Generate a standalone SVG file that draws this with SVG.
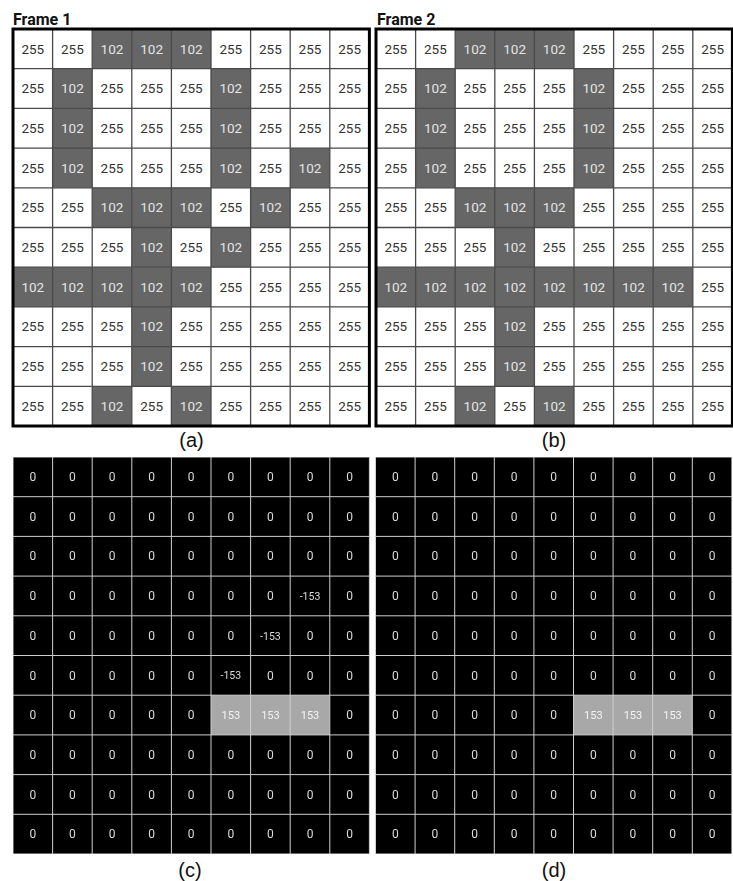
<svg xmlns="http://www.w3.org/2000/svg" width="733" height="881" viewBox="0 0 733 881">
<style>
text{font-family:Roboto,"Liberation Sans",sans-serif;text-anchor:middle}
.w{font-size:13.5px;fill:#333}
.g{font-size:13.5px;fill:#e4e4e4}
.z{font-size:12px;fill:#dcdcdc}
.p{font-size:11px;fill:#f4f4f4}
.n{font-size:10.5px;fill:#dcdcdc}
.title{font-size:16px;font-weight:bold;fill:#111;text-anchor:start}
.cap{font-size:20px;fill:#111;font-family:"Liberation Sans",Arial,sans-serif}
.dk{fill:#666}
.lt{fill:#a8a8a8}
.gl{fill:none;stroke:#4a4a4a;stroke-width:1.3}
.bl{fill:none;stroke:#cfcfcf;stroke-width:1}
.dark{filter:url(#flat)}
</style>
<defs>
<filter id="flat" x="0" y="0" width="1" height="1"><feOffset dx="0" dy="0"/></filter>
<path id="grid" d="M39.6 0V397M79.2 0V397M118.8 0V397M158.4 0V397M198 0V397M237.6 0V397M277.2 0V397M316.8 0V397M0 39.7H356.4M0 79.4H356.4M0 119.1H356.4M0 158.8H356.4M0 198.5H356.4M0 238.2H356.4M0 277.9H356.4M0 317.6H356.4M0 357.3H356.4"/>
</defs>
<rect width="733" height="881" fill="#fff"/>
<text class="title" x="13" y="25">Frame 1</text>
<text class="title" x="377" y="25">Frame 2</text>
<g id="frame1" transform="translate(13,29)">
<rect width="356.4" height="397" fill="#fff"/>
<rect class="dk" x="79.2" y="0" width="118.8" height="39.7"/>
<rect class="dk" x="39.6" y="39.7" width="39.6" height="119.1"/>
<rect class="dk" x="198" y="39.7" width="39.6" height="119.1"/>
<rect class="dk" x="277.2" y="119.1" width="39.6" height="39.7"/>
<rect class="dk" x="79.2" y="158.8" width="118.8" height="39.7"/>
<rect class="dk" x="237.6" y="158.8" width="39.6" height="39.7"/>
<rect class="dk" x="118.8" y="198.5" width="39.6" height="39.7"/>
<rect class="dk" x="198" y="198.5" width="39.6" height="39.7"/>
<rect class="dk" x="0" y="238.2" width="198" height="39.7"/>
<rect class="dk" x="118.8" y="277.9" width="39.6" height="79.4"/>
<rect class="dk" x="79.2" y="357.3" width="39.6" height="39.7"/>
<rect class="dk" x="158.4" y="357.3" width="39.6" height="39.7"/>
<use href="#grid" class="gl"/>
<rect width="356.4" height="397" fill="none" stroke="#000" stroke-width="3"/>
<text class="w" x="19.8" y="24.5">255</text><text class="w" x="59.4" y="24.5">255</text><text class="g" x="99" y="24.5">102</text><text class="g" x="138.6" y="24.5">102</text><text class="g" x="178.2" y="24.5">102</text><text class="w" x="217.8" y="24.5">255</text><text class="w" x="257.4" y="24.5">255</text><text class="w" x="297" y="24.5">255</text><text class="w" x="336.6" y="24.5">255</text>
<text class="w" x="19.8" y="64.2">255</text><text class="g" x="59.4" y="64.2">102</text><text class="w" x="99" y="64.2">255</text><text class="w" x="138.6" y="64.2">255</text><text class="w" x="178.2" y="64.2">255</text><text class="g" x="217.8" y="64.2">102</text><text class="w" x="257.4" y="64.2">255</text><text class="w" x="297" y="64.2">255</text><text class="w" x="336.6" y="64.2">255</text>
<text class="w" x="19.8" y="103.9">255</text><text class="g" x="59.4" y="103.9">102</text><text class="w" x="99" y="103.9">255</text><text class="w" x="138.6" y="103.9">255</text><text class="w" x="178.2" y="103.9">255</text><text class="g" x="217.8" y="103.9">102</text><text class="w" x="257.4" y="103.9">255</text><text class="w" x="297" y="103.9">255</text><text class="w" x="336.6" y="103.9">255</text>
<text class="w" x="19.8" y="143.6">255</text><text class="g" x="59.4" y="143.6">102</text><text class="w" x="99" y="143.6">255</text><text class="w" x="138.6" y="143.6">255</text><text class="w" x="178.2" y="143.6">255</text><text class="g" x="217.8" y="143.6">102</text><text class="w" x="257.4" y="143.6">255</text><text class="g" x="297" y="143.6">102</text><text class="w" x="336.6" y="143.6">255</text>
<text class="w" x="19.8" y="183.3">255</text><text class="w" x="59.4" y="183.3">255</text><text class="g" x="99" y="183.3">102</text><text class="g" x="138.6" y="183.3">102</text><text class="g" x="178.2" y="183.3">102</text><text class="w" x="217.8" y="183.3">255</text><text class="g" x="257.4" y="183.3">102</text><text class="w" x="297" y="183.3">255</text><text class="w" x="336.6" y="183.3">255</text>
<text class="w" x="19.8" y="223">255</text><text class="w" x="59.4" y="223">255</text><text class="w" x="99" y="223">255</text><text class="g" x="138.6" y="223">102</text><text class="w" x="178.2" y="223">255</text><text class="g" x="217.8" y="223">102</text><text class="w" x="257.4" y="223">255</text><text class="w" x="297" y="223">255</text><text class="w" x="336.6" y="223">255</text>
<text class="g" x="19.8" y="262.7">102</text><text class="g" x="59.4" y="262.7">102</text><text class="g" x="99" y="262.7">102</text><text class="g" x="138.6" y="262.7">102</text><text class="g" x="178.2" y="262.7">102</text><text class="w" x="217.8" y="262.7">255</text><text class="w" x="257.4" y="262.7">255</text><text class="w" x="297" y="262.7">255</text><text class="w" x="336.6" y="262.7">255</text>
<text class="w" x="19.8" y="302.4">255</text><text class="w" x="59.4" y="302.4">255</text><text class="w" x="99" y="302.4">255</text><text class="g" x="138.6" y="302.4">102</text><text class="w" x="178.2" y="302.4">255</text><text class="w" x="217.8" y="302.4">255</text><text class="w" x="257.4" y="302.4">255</text><text class="w" x="297" y="302.4">255</text><text class="w" x="336.6" y="302.4">255</text>
<text class="w" x="19.8" y="342.1">255</text><text class="w" x="59.4" y="342.1">255</text><text class="w" x="99" y="342.1">255</text><text class="g" x="138.6" y="342.1">102</text><text class="w" x="178.2" y="342.1">255</text><text class="w" x="217.8" y="342.1">255</text><text class="w" x="257.4" y="342.1">255</text><text class="w" x="297" y="342.1">255</text><text class="w" x="336.6" y="342.1">255</text>
<text class="w" x="19.8" y="381.8">255</text><text class="w" x="59.4" y="381.8">255</text><text class="g" x="99" y="381.8">102</text><text class="w" x="138.6" y="381.8">255</text><text class="g" x="178.2" y="381.8">102</text><text class="w" x="217.8" y="381.8">255</text><text class="w" x="257.4" y="381.8">255</text><text class="w" x="297" y="381.8">255</text><text class="w" x="336.6" y="381.8">255</text>
</g>
<g id="frame2" transform="translate(376,29)">
<rect width="356.4" height="397" fill="#fff"/>
<rect class="dk" x="79.2" y="0" width="118.8" height="39.7"/>
<rect class="dk" x="39.6" y="39.7" width="39.6" height="119.1"/>
<rect class="dk" x="198" y="39.7" width="39.6" height="119.1"/>
<rect class="dk" x="79.2" y="158.8" width="118.8" height="39.7"/>
<rect class="dk" x="118.8" y="198.5" width="39.6" height="39.7"/>
<rect class="dk" x="0" y="238.2" width="316.8" height="39.7"/>
<rect class="dk" x="118.8" y="277.9" width="39.6" height="79.4"/>
<rect class="dk" x="79.2" y="357.3" width="39.6" height="39.7"/>
<rect class="dk" x="158.4" y="357.3" width="39.6" height="39.7"/>
<use href="#grid" class="gl"/>
<rect width="356.4" height="397" fill="none" stroke="#000" stroke-width="3"/>
<text class="w" x="19.8" y="24.5">255</text><text class="w" x="59.4" y="24.5">255</text><text class="g" x="99" y="24.5">102</text><text class="g" x="138.6" y="24.5">102</text><text class="g" x="178.2" y="24.5">102</text><text class="w" x="217.8" y="24.5">255</text><text class="w" x="257.4" y="24.5">255</text><text class="w" x="297" y="24.5">255</text><text class="w" x="336.6" y="24.5">255</text>
<text class="w" x="19.8" y="64.2">255</text><text class="g" x="59.4" y="64.2">102</text><text class="w" x="99" y="64.2">255</text><text class="w" x="138.6" y="64.2">255</text><text class="w" x="178.2" y="64.2">255</text><text class="g" x="217.8" y="64.2">102</text><text class="w" x="257.4" y="64.2">255</text><text class="w" x="297" y="64.2">255</text><text class="w" x="336.6" y="64.2">255</text>
<text class="w" x="19.8" y="103.9">255</text><text class="g" x="59.4" y="103.9">102</text><text class="w" x="99" y="103.9">255</text><text class="w" x="138.6" y="103.9">255</text><text class="w" x="178.2" y="103.9">255</text><text class="g" x="217.8" y="103.9">102</text><text class="w" x="257.4" y="103.9">255</text><text class="w" x="297" y="103.9">255</text><text class="w" x="336.6" y="103.9">255</text>
<text class="w" x="19.8" y="143.6">255</text><text class="g" x="59.4" y="143.6">102</text><text class="w" x="99" y="143.6">255</text><text class="w" x="138.6" y="143.6">255</text><text class="w" x="178.2" y="143.6">255</text><text class="g" x="217.8" y="143.6">102</text><text class="w" x="257.4" y="143.6">255</text><text class="w" x="297" y="143.6">255</text><text class="w" x="336.6" y="143.6">255</text>
<text class="w" x="19.8" y="183.3">255</text><text class="w" x="59.4" y="183.3">255</text><text class="g" x="99" y="183.3">102</text><text class="g" x="138.6" y="183.3">102</text><text class="g" x="178.2" y="183.3">102</text><text class="w" x="217.8" y="183.3">255</text><text class="w" x="257.4" y="183.3">255</text><text class="w" x="297" y="183.3">255</text><text class="w" x="336.6" y="183.3">255</text>
<text class="w" x="19.8" y="223">255</text><text class="w" x="59.4" y="223">255</text><text class="w" x="99" y="223">255</text><text class="g" x="138.6" y="223">102</text><text class="w" x="178.2" y="223">255</text><text class="w" x="217.8" y="223">255</text><text class="w" x="257.4" y="223">255</text><text class="w" x="297" y="223">255</text><text class="w" x="336.6" y="223">255</text>
<text class="g" x="19.8" y="262.7">102</text><text class="g" x="59.4" y="262.7">102</text><text class="g" x="99" y="262.7">102</text><text class="g" x="138.6" y="262.7">102</text><text class="g" x="178.2" y="262.7">102</text><text class="g" x="217.8" y="262.7">102</text><text class="g" x="257.4" y="262.7">102</text><text class="g" x="297" y="262.7">102</text><text class="w" x="336.6" y="262.7">255</text>
<text class="w" x="19.8" y="302.4">255</text><text class="w" x="59.4" y="302.4">255</text><text class="w" x="99" y="302.4">255</text><text class="g" x="138.6" y="302.4">102</text><text class="w" x="178.2" y="302.4">255</text><text class="w" x="217.8" y="302.4">255</text><text class="w" x="257.4" y="302.4">255</text><text class="w" x="297" y="302.4">255</text><text class="w" x="336.6" y="302.4">255</text>
<text class="w" x="19.8" y="342.1">255</text><text class="w" x="59.4" y="342.1">255</text><text class="w" x="99" y="342.1">255</text><text class="g" x="138.6" y="342.1">102</text><text class="w" x="178.2" y="342.1">255</text><text class="w" x="217.8" y="342.1">255</text><text class="w" x="257.4" y="342.1">255</text><text class="w" x="297" y="342.1">255</text><text class="w" x="336.6" y="342.1">255</text>
<text class="w" x="19.8" y="381.8">255</text><text class="w" x="59.4" y="381.8">255</text><text class="g" x="99" y="381.8">102</text><text class="w" x="138.6" y="381.8">255</text><text class="g" x="178.2" y="381.8">102</text><text class="w" x="217.8" y="381.8">255</text><text class="w" x="257.4" y="381.8">255</text><text class="w" x="297" y="381.8">255</text><text class="w" x="336.6" y="381.8">255</text>
</g>
<text class="cap" x="191.5" y="447">(a)</text>
<text class="cap" x="554" y="447">(b)</text>
<g id="diffc" class="dark" transform="translate(13,457)">
<rect width="356.4" height="397" fill="#000"/>
<rect class="lt" x="198" y="238.2" width="118.8" height="39.7"/>
<use href="#grid" class="bl"/>
<rect width="356.4" height="397" class="bl"/>
<text class="z" x="19.8" y="24">0</text><text class="z" x="59.4" y="24">0</text><text class="z" x="99" y="24">0</text><text class="z" x="138.6" y="24">0</text><text class="z" x="178.2" y="24">0</text><text class="z" x="217.8" y="24">0</text><text class="z" x="257.4" y="24">0</text><text class="z" x="297" y="24">0</text><text class="z" x="336.6" y="24">0</text>
<text class="z" x="19.8" y="63.7">0</text><text class="z" x="59.4" y="63.7">0</text><text class="z" x="99" y="63.7">0</text><text class="z" x="138.6" y="63.7">0</text><text class="z" x="178.2" y="63.7">0</text><text class="z" x="217.8" y="63.7">0</text><text class="z" x="257.4" y="63.7">0</text><text class="z" x="297" y="63.7">0</text><text class="z" x="336.6" y="63.7">0</text>
<text class="z" x="19.8" y="103.4">0</text><text class="z" x="59.4" y="103.4">0</text><text class="z" x="99" y="103.4">0</text><text class="z" x="138.6" y="103.4">0</text><text class="z" x="178.2" y="103.4">0</text><text class="z" x="217.8" y="103.4">0</text><text class="z" x="257.4" y="103.4">0</text><text class="z" x="297" y="103.4">0</text><text class="z" x="336.6" y="103.4">0</text>
<text class="z" x="19.8" y="143.1">0</text><text class="z" x="59.4" y="143.1">0</text><text class="z" x="99" y="143.1">0</text><text class="z" x="138.6" y="143.1">0</text><text class="z" x="178.2" y="143.1">0</text><text class="z" x="217.8" y="143.1">0</text><text class="z" x="257.4" y="143.1">0</text><text class="n" x="297" y="142.8">-153</text><text class="z" x="336.6" y="143.1">0</text>
<text class="z" x="19.8" y="182.8">0</text><text class="z" x="59.4" y="182.8">0</text><text class="z" x="99" y="182.8">0</text><text class="z" x="138.6" y="182.8">0</text><text class="z" x="178.2" y="182.8">0</text><text class="z" x="217.8" y="182.8">0</text><text class="n" x="257.4" y="182.5">-153</text><text class="z" x="297" y="182.8">0</text><text class="z" x="336.6" y="182.8">0</text>
<text class="z" x="19.8" y="222.5">0</text><text class="z" x="59.4" y="222.5">0</text><text class="z" x="99" y="222.5">0</text><text class="z" x="138.6" y="222.5">0</text><text class="z" x="178.2" y="222.5">0</text><text class="n" x="217.8" y="222.2">-153</text><text class="z" x="257.4" y="222.5">0</text><text class="z" x="297" y="222.5">0</text><text class="z" x="336.6" y="222.5">0</text>
<text class="z" x="19.8" y="262.2">0</text><text class="z" x="59.4" y="262.2">0</text><text class="z" x="99" y="262.2">0</text><text class="z" x="138.6" y="262.2">0</text><text class="z" x="178.2" y="262.2">0</text><text class="p" x="217.8" y="261.9">153</text><text class="p" x="257.4" y="261.9">153</text><text class="p" x="297" y="261.9">153</text><text class="z" x="336.6" y="262.2">0</text>
<text class="z" x="19.8" y="301.9">0</text><text class="z" x="59.4" y="301.9">0</text><text class="z" x="99" y="301.9">0</text><text class="z" x="138.6" y="301.9">0</text><text class="z" x="178.2" y="301.9">0</text><text class="z" x="217.8" y="301.9">0</text><text class="z" x="257.4" y="301.9">0</text><text class="z" x="297" y="301.9">0</text><text class="z" x="336.6" y="301.9">0</text>
<text class="z" x="19.8" y="341.6">0</text><text class="z" x="59.4" y="341.6">0</text><text class="z" x="99" y="341.6">0</text><text class="z" x="138.6" y="341.6">0</text><text class="z" x="178.2" y="341.6">0</text><text class="z" x="217.8" y="341.6">0</text><text class="z" x="257.4" y="341.6">0</text><text class="z" x="297" y="341.6">0</text><text class="z" x="336.6" y="341.6">0</text>
<text class="z" x="19.8" y="381.3">0</text><text class="z" x="59.4" y="381.3">0</text><text class="z" x="99" y="381.3">0</text><text class="z" x="138.6" y="381.3">0</text><text class="z" x="178.2" y="381.3">0</text><text class="z" x="217.8" y="381.3">0</text><text class="z" x="257.4" y="381.3">0</text><text class="z" x="297" y="381.3">0</text><text class="z" x="336.6" y="381.3">0</text>
</g>
<g id="diffd" class="dark" transform="translate(375.5,457)">
<rect width="356.4" height="397" fill="#000"/>
<rect class="lt" x="198" y="238.2" width="118.8" height="39.7"/>
<use href="#grid" class="bl"/>
<rect width="356.4" height="397" class="bl"/>
<text class="z" x="19.8" y="24">0</text><text class="z" x="59.4" y="24">0</text><text class="z" x="99" y="24">0</text><text class="z" x="138.6" y="24">0</text><text class="z" x="178.2" y="24">0</text><text class="z" x="217.8" y="24">0</text><text class="z" x="257.4" y="24">0</text><text class="z" x="297" y="24">0</text><text class="z" x="336.6" y="24">0</text>
<text class="z" x="19.8" y="63.7">0</text><text class="z" x="59.4" y="63.7">0</text><text class="z" x="99" y="63.7">0</text><text class="z" x="138.6" y="63.7">0</text><text class="z" x="178.2" y="63.7">0</text><text class="z" x="217.8" y="63.7">0</text><text class="z" x="257.4" y="63.7">0</text><text class="z" x="297" y="63.7">0</text><text class="z" x="336.6" y="63.7">0</text>
<text class="z" x="19.8" y="103.4">0</text><text class="z" x="59.4" y="103.4">0</text><text class="z" x="99" y="103.4">0</text><text class="z" x="138.6" y="103.4">0</text><text class="z" x="178.2" y="103.4">0</text><text class="z" x="217.8" y="103.4">0</text><text class="z" x="257.4" y="103.4">0</text><text class="z" x="297" y="103.4">0</text><text class="z" x="336.6" y="103.4">0</text>
<text class="z" x="19.8" y="143.1">0</text><text class="z" x="59.4" y="143.1">0</text><text class="z" x="99" y="143.1">0</text><text class="z" x="138.6" y="143.1">0</text><text class="z" x="178.2" y="143.1">0</text><text class="z" x="217.8" y="143.1">0</text><text class="z" x="257.4" y="143.1">0</text><text class="z" x="297" y="143.1">0</text><text class="z" x="336.6" y="143.1">0</text>
<text class="z" x="19.8" y="182.8">0</text><text class="z" x="59.4" y="182.8">0</text><text class="z" x="99" y="182.8">0</text><text class="z" x="138.6" y="182.8">0</text><text class="z" x="178.2" y="182.8">0</text><text class="z" x="217.8" y="182.8">0</text><text class="z" x="257.4" y="182.8">0</text><text class="z" x="297" y="182.8">0</text><text class="z" x="336.6" y="182.8">0</text>
<text class="z" x="19.8" y="222.5">0</text><text class="z" x="59.4" y="222.5">0</text><text class="z" x="99" y="222.5">0</text><text class="z" x="138.6" y="222.5">0</text><text class="z" x="178.2" y="222.5">0</text><text class="z" x="217.8" y="222.5">0</text><text class="z" x="257.4" y="222.5">0</text><text class="z" x="297" y="222.5">0</text><text class="z" x="336.6" y="222.5">0</text>
<text class="z" x="19.8" y="262.2">0</text><text class="z" x="59.4" y="262.2">0</text><text class="z" x="99" y="262.2">0</text><text class="z" x="138.6" y="262.2">0</text><text class="z" x="178.2" y="262.2">0</text><text class="p" x="217.8" y="261.9">153</text><text class="p" x="257.4" y="261.9">153</text><text class="p" x="297" y="261.9">153</text><text class="z" x="336.6" y="262.2">0</text>
<text class="z" x="19.8" y="301.9">0</text><text class="z" x="59.4" y="301.9">0</text><text class="z" x="99" y="301.9">0</text><text class="z" x="138.6" y="301.9">0</text><text class="z" x="178.2" y="301.9">0</text><text class="z" x="217.8" y="301.9">0</text><text class="z" x="257.4" y="301.9">0</text><text class="z" x="297" y="301.9">0</text><text class="z" x="336.6" y="301.9">0</text>
<text class="z" x="19.8" y="341.6">0</text><text class="z" x="59.4" y="341.6">0</text><text class="z" x="99" y="341.6">0</text><text class="z" x="138.6" y="341.6">0</text><text class="z" x="178.2" y="341.6">0</text><text class="z" x="217.8" y="341.6">0</text><text class="z" x="257.4" y="341.6">0</text><text class="z" x="297" y="341.6">0</text><text class="z" x="336.6" y="341.6">0</text>
<text class="z" x="19.8" y="381.3">0</text><text class="z" x="59.4" y="381.3">0</text><text class="z" x="99" y="381.3">0</text><text class="z" x="138.6" y="381.3">0</text><text class="z" x="178.2" y="381.3">0</text><text class="z" x="217.8" y="381.3">0</text><text class="z" x="257.4" y="381.3">0</text><text class="z" x="297" y="381.3">0</text><text class="z" x="336.6" y="381.3">0</text>
</g>
<text class="cap" x="190" y="877">(c)</text>
<text class="cap" x="554" y="877">(d)</text>
</svg>
